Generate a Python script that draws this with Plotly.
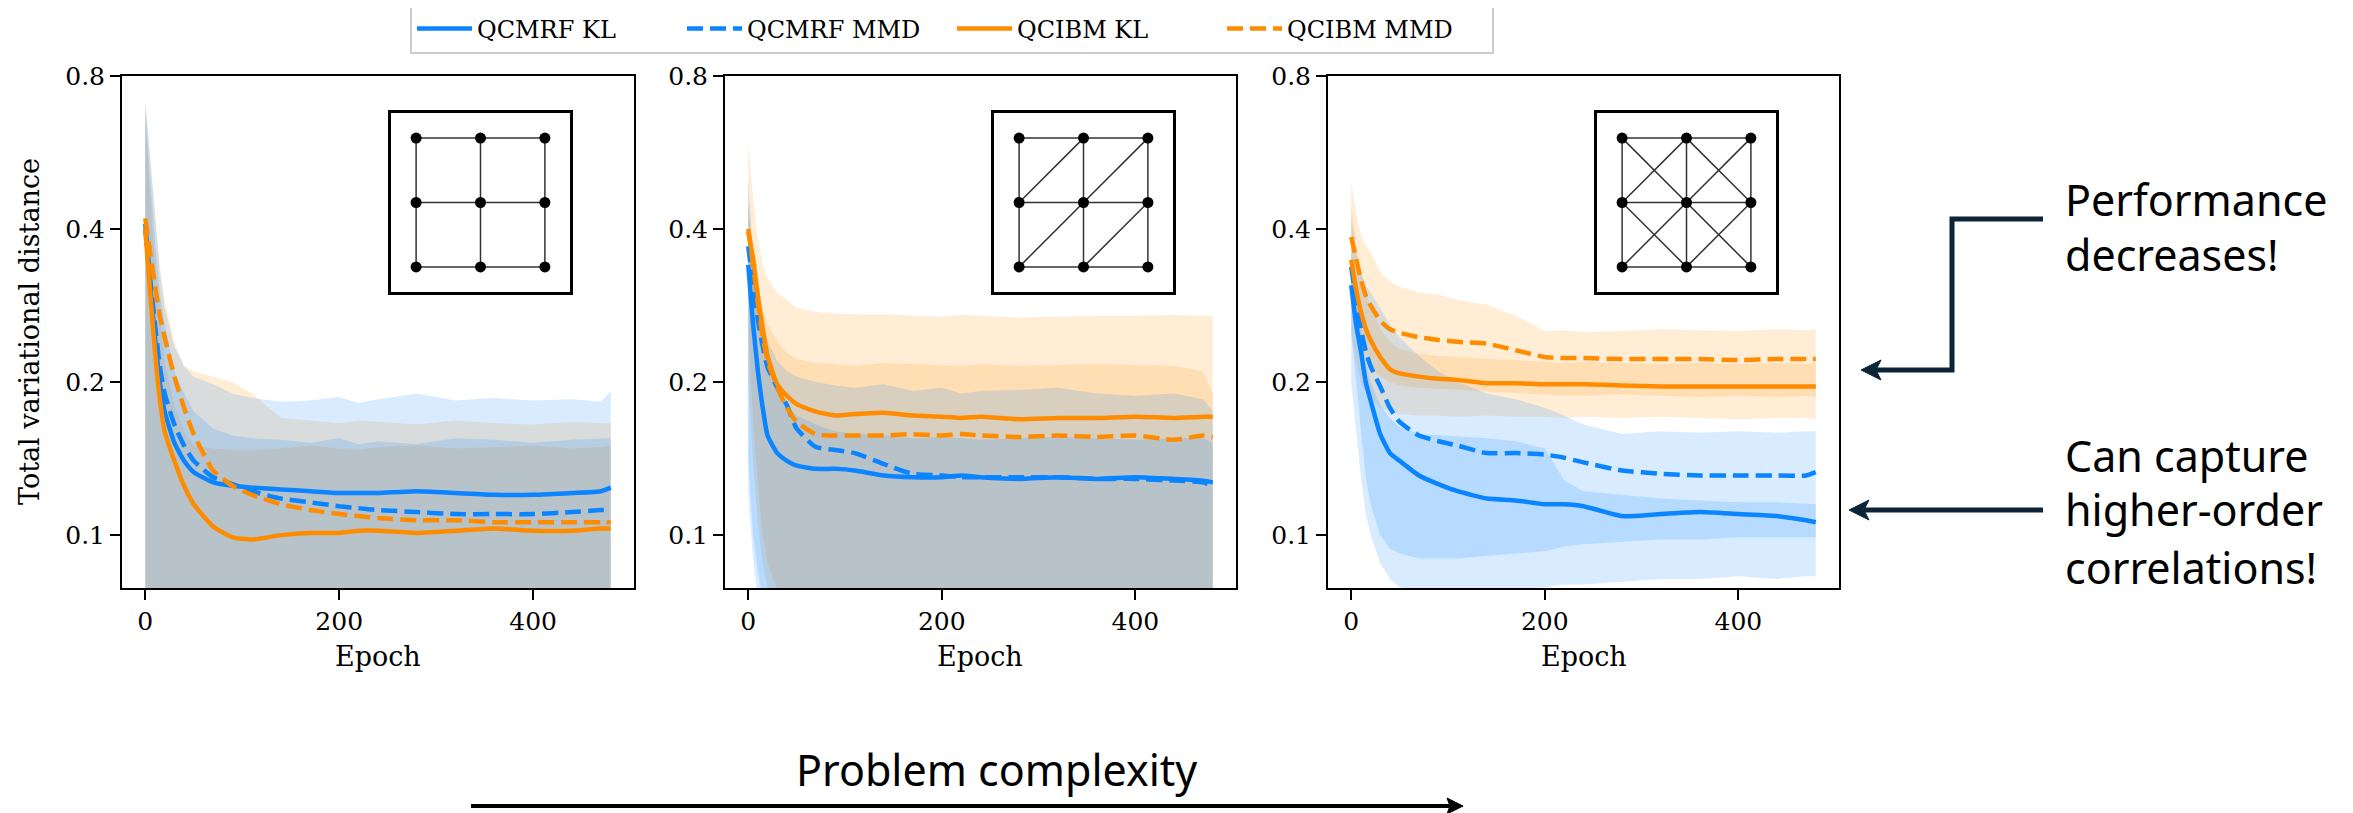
import math
import plotly.graph_objects as go

W, H = 2353, 813
PAGE_MARGIN = 8  # browser body margin around the figure div

# ---------------------------------------------------------------- data
EPOCHS = [0, 5, 10, 15, 20, 30, 40, 50, 70, 90, 110, 140, 170, 200, 220, 240, 280, 320, 360, 400, 440, 470, 480]
SERIES = ["QCMRF KL", "QCMRF MMD", "QCIBM KL", "QCIBM MMD"]

# panel 1: grid
P1_MRF_KL = [0.41, 0.31, 0.245, 0.2, 0.175, 0.152, 0.14, 0.133, 0.127, 0.125, 0.124, 0.123, 0.122, 0.121, 0.121, 0.121, 0.122, 0.121, 0.120, 0.120, 0.121, 0.122, 0.124]
P1_MRF_MMD = [0.40, 0.32, 0.26, 0.215, 0.19, 0.165, 0.15, 0.14, 0.13, 0.126, 0.122, 0.118, 0.116, 0.114, 0.113, 0.112, 0.111, 0.110, 0.110, 0.110, 0.111, 0.112, 0.112]
P1_IBM_KL = [0.40, 0.30, 0.23, 0.185, 0.16, 0.14, 0.125, 0.115, 0.104, 0.099, 0.098, 0.100, 0.101, 0.101, 0.102, 0.102, 0.101, 0.102, 0.103, 0.102, 0.102, 0.103, 0.103]
P1_IBM_MMD = [0.42, 0.36, 0.31, 0.27, 0.245, 0.205, 0.178, 0.158, 0.134, 0.125, 0.12, 0.115, 0.112, 0.110, 0.109, 0.108, 0.107, 0.107, 0.106, 0.106, 0.106, 0.106, 0.106]
P1_MRF_KL_HI = [0.72, 0.55, 0.42, 0.33, 0.28, 0.235, 0.215, 0.205, 0.198, 0.19, 0.186, 0.183, 0.184, 0.187, 0.182, 0.185, 0.19, 0.184, 0.186, 0.184, 0.185, 0.183, 0.192]
P1_MRF_MMD_HI = [0.7, 0.5, 0.38, 0.3, 0.26, 0.21, 0.19, 0.175, 0.162, 0.157, 0.155, 0.154, 0.152, 0.155, 0.151, 0.153, 0.151, 0.155, 0.154, 0.152, 0.154, 0.155, 0.155]
P1_IBM_KL_HI = [0.65, 0.45, 0.34, 0.27, 0.22, 0.18, 0.16, 0.15, 0.148, 0.147, 0.147, 0.148, 0.15, 0.148, 0.147, 0.149, 0.15, 0.148, 0.149, 0.15, 0.148, 0.149, 0.15]
P1_IBM_MMD_HI = [0.7, 0.55, 0.43, 0.34, 0.29, 0.24, 0.215, 0.21, 0.205, 0.2, 0.19, 0.17, 0.168, 0.166, 0.168, 0.167, 0.165, 0.168, 0.166, 0.165, 0.167, 0.166, 0.166]
P1_MRF_KL_LO = [0.07, 0.066, 0.064, 0.063, 0.063, 0.062, 0.062, 0.062, 0.062, 0.062, 0.062, 0.062, 0.062, 0.062, 0.062, 0.062, 0.062, 0.062, 0.062, 0.062, 0.062, 0.062, 0.062]
P1_MRF_MMD_LO = [0.07, 0.066, 0.065, 0.064, 0.064, 0.063, 0.063, 0.063, 0.063, 0.063, 0.063, 0.063, 0.063, 0.063, 0.063, 0.063, 0.063, 0.063, 0.063, 0.063, 0.063, 0.063, 0.063]
P1_IBM_KL_LO = [0.075, 0.068, 0.062, 0.06, 0.058, 0.057, 0.056, 0.056, 0.056, 0.056, 0.056, 0.056, 0.056, 0.056, 0.056, 0.056, 0.056, 0.056, 0.056, 0.056, 0.056, 0.056, 0.056]
P1_IBM_MMD_LO = [0.075, 0.07, 0.066, 0.062, 0.06, 0.058, 0.057, 0.056, 0.056, 0.056, 0.056, 0.056, 0.056, 0.056, 0.056, 0.056, 0.056, 0.056, 0.056, 0.056, 0.056, 0.056, 0.056]

# panel 2: grid + one diagonal
P2_MRF_KL = [0.34, 0.26, 0.21, 0.178, 0.157, 0.145, 0.14, 0.137, 0.135, 0.135, 0.134, 0.131, 0.130, 0.130, 0.131, 0.130, 0.129, 0.130, 0.129, 0.130, 0.129, 0.128, 0.127]
P2_MRF_MMD = [0.37, 0.31, 0.265, 0.235, 0.214, 0.195, 0.18, 0.162, 0.149, 0.147, 0.145, 0.138, 0.132, 0.131, 0.130, 0.130, 0.130, 0.130, 0.129, 0.129, 0.128, 0.127, 0.125]
P2_IBM_KL = [0.395, 0.35, 0.295, 0.255, 0.225, 0.198, 0.188, 0.181, 0.175, 0.172, 0.173, 0.174, 0.172, 0.171, 0.170, 0.171, 0.169, 0.170, 0.170, 0.171, 0.170, 0.171, 0.171]
P2_IBM_MMD = [0.40, 0.34, 0.285, 0.245, 0.22, 0.195, 0.178, 0.167, 0.158, 0.157, 0.157, 0.157, 0.158, 0.157, 0.158, 0.157, 0.156, 0.157, 0.156, 0.157, 0.154, 0.157, 0.156]
P2_MRF_KL_HI = [0.5, 0.36, 0.3, 0.26, 0.24, 0.22, 0.21, 0.205, 0.2, 0.197, 0.195, 0.198, 0.192, 0.195, 0.19, 0.192, 0.193, 0.195, 0.19, 0.188, 0.19, 0.185, 0.175]
P2_MRF_MMD_HI = [0.45, 0.33, 0.27, 0.23, 0.21, 0.19, 0.18, 0.172, 0.165, 0.16, 0.158, 0.157, 0.155, 0.156, 0.155, 0.154, 0.155, 0.156, 0.155, 0.154, 0.155, 0.155, 0.152]
P2_IBM_KL_HI = [0.59, 0.46, 0.38, 0.34, 0.32, 0.30, 0.29, 0.28, 0.275, 0.273, 0.272, 0.272, 0.27, 0.269, 0.271, 0.27, 0.268, 0.269, 0.27, 0.27, 0.271, 0.27, 0.27]
P2_IBM_MMD_HI = [0.45, 0.36, 0.31, 0.28, 0.26, 0.24, 0.228, 0.222, 0.218, 0.217, 0.215, 0.218, 0.217, 0.216, 0.215, 0.217, 0.215, 0.216, 0.217, 0.216, 0.215, 0.21, 0.19]
P2_MRF_KL_LO = [0.12, 0.09, 0.075, 0.068, 0.065, 0.063, 0.062, 0.062, 0.062, 0.062, 0.062, 0.062, 0.062, 0.062, 0.062, 0.062, 0.062, 0.062, 0.062, 0.062, 0.062, 0.062, 0.062]
P2_MRF_MMD_LO = [0.14, 0.1, 0.085, 0.075, 0.07, 0.066, 0.064, 0.064, 0.064, 0.064, 0.064, 0.064, 0.064, 0.064, 0.064, 0.064, 0.064, 0.064, 0.064, 0.064, 0.064, 0.064, 0.064]
P2_IBM_KL_LO = [0.2, 0.14, 0.105, 0.088, 0.078, 0.07, 0.067, 0.066, 0.065, 0.065, 0.065, 0.065, 0.065, 0.065, 0.065, 0.065, 0.065, 0.065, 0.065, 0.065, 0.065, 0.065, 0.065]
P2_IBM_MMD_LO = [0.25, 0.17, 0.125, 0.1, 0.088, 0.078, 0.072, 0.07, 0.069, 0.069, 0.069, 0.069, 0.069, 0.069, 0.069, 0.069, 0.069, 0.069, 0.069, 0.069, 0.069, 0.069, 0.069]

# panel 3: grid + both diagonals
P3_MRF_KL = [0.31, 0.26, 0.23, 0.2, 0.184, 0.158, 0.145, 0.14, 0.131, 0.126, 0.122, 0.118, 0.117, 0.115, 0.115, 0.114, 0.109, 0.110, 0.111, 0.110, 0.109, 0.107, 0.106]
P3_MRF_MMD = [0.337, 0.29, 0.255, 0.23, 0.215, 0.196, 0.178, 0.167, 0.157, 0.153, 0.15, 0.145, 0.145, 0.144, 0.142, 0.139, 0.134, 0.132, 0.131, 0.131, 0.131, 0.131, 0.133]
P3_IBM_KL = [0.348, 0.305, 0.275, 0.255, 0.242, 0.224, 0.212, 0.208, 0.205, 0.203, 0.202, 0.199, 0.199, 0.198, 0.198, 0.198, 0.197, 0.196, 0.196, 0.196, 0.196, 0.196, 0.196]
P3_IBM_MMD = [0.386, 0.35, 0.318, 0.296, 0.283, 0.264, 0.254, 0.25, 0.245, 0.242, 0.24, 0.238, 0.231, 0.224, 0.223, 0.223, 0.222, 0.222, 0.222, 0.221, 0.222, 0.222, 0.222]
P3_MRF_KL_HI = [0.36, 0.3, 0.26, 0.22, 0.2, 0.18, 0.17, 0.163, 0.158, 0.157, 0.156, 0.155, 0.153, 0.148, 0.128, 0.122, 0.12, 0.118, 0.117, 0.116, 0.116, 0.115, 0.115]
P3_MRF_MMD_HI = [0.42, 0.36, 0.33, 0.31, 0.3, 0.28, 0.26, 0.245, 0.225, 0.21, 0.2, 0.19, 0.185, 0.178, 0.172, 0.165, 0.158, 0.16, 0.159, 0.16, 0.159, 0.16, 0.16]
P3_IBM_KL_HI = [0.45, 0.38, 0.33, 0.30, 0.28, 0.255, 0.24, 0.232, 0.228, 0.225, 0.224, 0.222, 0.221, 0.219, 0.218, 0.219, 0.218, 0.217, 0.218, 0.217, 0.218, 0.217, 0.218]
P3_IBM_MMD_HI = [0.495, 0.43, 0.39, 0.37, 0.36, 0.33, 0.315, 0.308, 0.30, 0.297, 0.29, 0.284, 0.27, 0.252, 0.253, 0.251, 0.252, 0.254, 0.253, 0.252, 0.254, 0.253, 0.254]
P3_MRF_KL_LO = [0.25, 0.2, 0.16, 0.13, 0.115, 0.1, 0.094, 0.092, 0.09, 0.09, 0.09, 0.091, 0.092, 0.093, 0.095, 0.096, 0.097, 0.098, 0.098, 0.099, 0.099, 0.099, 0.099]
P3_MRF_MMD_LO = [0.2, 0.16, 0.13, 0.11, 0.1, 0.088, 0.082, 0.079, 0.078, 0.077, 0.077, 0.078, 0.078, 0.079, 0.08, 0.08, 0.081, 0.082, 0.082, 0.083, 0.082, 0.083, 0.083]
P3_IBM_KL_LO = [0.25, 0.22, 0.2, 0.19, 0.185, 0.178, 0.175, 0.173, 0.172, 0.172, 0.171, 0.172, 0.171, 0.171, 0.17, 0.171, 0.17, 0.171, 0.17, 0.169, 0.17, 0.17, 0.169]
P3_IBM_MMD_LO = [0.29, 0.26, 0.24, 0.225, 0.215, 0.205, 0.2, 0.197, 0.195, 0.194, 0.193, 0.192, 0.19, 0.189, 0.188, 0.188, 0.189, 0.188, 0.187, 0.188, 0.187, 0.188, 0.187]

Y_TICKS = [0.1, 0.2, 0.4, 0.8]
X_TICKS = [0, 200, 400]

# inset graphs: 3x3 lattice, node id = row * 3 + col
NODE_COL = [0, 1, 2, 0, 1, 2, 0, 1, 2]
NODE_ROW = [0, 0, 0, 1, 1, 1, 2, 2, 2]
GRID_EDGES = [(0, 1), (1, 2), (3, 4), (4, 5), (6, 7), (7, 8), (0, 3), (3, 6), (1, 4), (4, 7), (2, 5), (5, 8)]
DIAG_UP = [(0, 4), (1, 5), (3, 7), (4, 8)]
DIAG_DOWN = [(3, 1), (4, 2), (6, 4), (7, 5)]

PANELS = [
    dict(mean=[P1_MRF_KL, P1_MRF_MMD, P1_IBM_KL, P1_IBM_MMD],
         hi=[P1_MRF_KL_HI, P1_MRF_MMD_HI, P1_IBM_KL_HI, P1_IBM_MMD_HI],
         lo=[P1_MRF_KL_LO, P1_MRF_MMD_LO, P1_IBM_KL_LO, P1_IBM_MMD_LO],
         edges=GRID_EDGES),
    dict(mean=[P2_MRF_KL, P2_MRF_MMD, P2_IBM_KL, P2_IBM_MMD],
         hi=[P2_MRF_KL_HI, P2_MRF_MMD_HI, P2_IBM_KL_HI, P2_IBM_MMD_HI],
         lo=[P2_MRF_KL_LO, P2_MRF_MMD_LO, P2_IBM_KL_LO, P2_IBM_MMD_LO],
         edges=GRID_EDGES + DIAG_UP),
    dict(mean=[P3_MRF_KL, P3_MRF_MMD, P3_IBM_KL, P3_IBM_MMD],
         hi=[P3_MRF_KL_HI, P3_MRF_MMD_HI, P3_IBM_KL_HI, P3_IBM_MMD_HI],
         lo=[P3_MRF_KL_LO, P3_MRF_MMD_LO, P3_IBM_KL_LO, P3_IBM_MMD_LO],
         edges=GRID_EDGES + DIAG_UP + DIAG_DOWN),
]

# ---------------------------------------------------------------- style
BLUE, ORANGE = "#0a84ff", "#ff8c00"
BLUE_FILL, ORANGE_FILL = "rgba(10,132,255,0.16)", "rgba(255,140,0,0.16)"
COLORS = [BLUE, BLUE, ORANGE, ORANGE]
FILLS = [BLUE_FILL, BLUE_FILL, ORANGE_FILL, ORANGE_FILL]
DASHES = ["solid", "16px,7px", "solid", "16px,7px"]
FILL_ORDER = [2, 3, 0, 1]  # orange bands underneath, blue on top
SERIF = "DejaVu Serif"
SANS = "Noto Sans"
NAVY = "#0c2536"


def px(x):
    return (x - PAGE_MARGIN) / W


def py(y):
    return 1 - (y - PAGE_MARGIN) / H


# panel frames in page pixels (left, right); all share top / bottom
PANEL_X = [(122, 634), (725, 1236), (1328, 1839)]
TOP, BOTTOM = 76, 588
INSET = (269, 448, 113, 292)  # x offsets inside panel, y pixels

fig = go.Figure()
layout = {}

for i, panel in enumerate(PANELS):
    n = i + 1
    xa, ya = ("x" if n == 1 else f"x{n}"), ("y" if n == 1 else f"y{n}")
    for k in FILL_ORDER:
        fig.add_trace(go.Scatter(x=EPOCHS, y=panel["lo"][k], mode="lines", line=dict(width=0),
                                 showlegend=False, hoverinfo="skip", xaxis=xa, yaxis=ya))
        fig.add_trace(go.Scatter(x=EPOCHS, y=panel["hi"][k], mode="lines", line=dict(width=0),
                                 fill="tonexty", fillcolor=FILLS[k],
                                 showlegend=False, hoverinfo="skip", xaxis=xa, yaxis=ya))
    for k in range(4):
        fig.add_trace(go.Scatter(x=EPOCHS, y=panel["mean"][k], mode="lines", name=SERIES[k],
                                 line=dict(color=COLORS[k], width=4.5, dash=DASHES[k],
                                           shape="spline", smoothing=0.5),
                                 showlegend=(n == 1), xaxis=xa, yaxis=ya))

    l, r = PANEL_X[i]
    axis_common = dict(showline=True, mirror=True, linecolor="black", linewidth=2,
                       ticks="outside", ticklen=10, tickwidth=2, tickcolor="black",
                       showgrid=False, zeroline=False,
                       tickfont=dict(family=SERIF, size=25, color="black"))
    layout["xaxis" if n == 1 else f"xaxis{n}"] = dict(
        domain=[px(l), px(r)], range=[-24, 504], tickvals=X_TICKS, anchor=ya, **axis_common)
    layout["yaxis" if n == 1 else f"yaxis{n}"] = dict(
        domain=[py(BOTTOM), py(TOP)], type="log",
        range=[math.log10(0.0787), math.log10(0.8)],
        tickvals=Y_TICKS, ticktext=[str(v) for v in Y_TICKS], anchor=xa, **axis_common)

    # inset graph drawing
    m = n + 3
    ixa, iya = f"x{m}", f"y{m}"
    ex, ey = [], []
    for a, b in panel["edges"]:
        ex += [NODE_COL[a], NODE_COL[b], None]
        ey += [NODE_ROW[a], NODE_ROW[b], None]
    fig.add_trace(go.Scatter(x=ex, y=ey, mode="lines", line=dict(color="#333333", width=1.5),
                             showlegend=False, hoverinfo="skip", xaxis=ixa, yaxis=iya))
    fig.add_trace(go.Scatter(x=NODE_COL, y=NODE_ROW, mode="markers",
                             marker=dict(color="black", size=11),
                             showlegend=False, hoverinfo="skip", xaxis=ixa, yaxis=iya))
    inset_axis = dict(showline=True, mirror=True, linecolor="black", linewidth=3,
                      showticklabels=False, ticks="", showgrid=False, zeroline=False,
                      range=[-0.39, 2.39], fixedrange=True)
    layout[f"xaxis{m}"] = dict(domain=[px(l + INSET[0]), px(l + INSET[1])], anchor=iya, **inset_axis)
    layout[f"yaxis{m}"] = dict(domain=[py(INSET[3]), py(INSET[2])], anchor=ixa, **inset_axis)

SANS_FONT = dict(family=SANS, size=43, color="black")
annotations = [
    dict(text="Total variational distance", x=px(30), y=py((TOP + BOTTOM) / 2), textangle=-90,
         font=dict(family=SERIF, size=27, color="black")),
    dict(text="Problem complexity", x=px(996), y=py(769), font=SANS_FONT),
]
for line, yy in [("Performance", 199), ("decreases!", 254),
                 ("Can capture", 455), ("higher-order", 510), ("correlations!", 567)]:
    annotations.append(dict(text=line, x=px(2063), y=py(yy), xanchor="left", font=SANS_FONT))
for l, r in PANEL_X:
    annotations.append(dict(text="Epoch", x=px((l + r) / 2), y=py(656),
                            font=dict(family=SERIF, size=27, color="black")))
for a in annotations:
    a.update(xref="paper", yref="paper", showarrow=False)
    a.setdefault("xanchor", "center")
    a.setdefault("yanchor", "middle")


def path(points, close=False):
    s = "M " + " L ".join(f"{px(x):.5f},{py(y):.5f}" for x, y in points)
    return s + (" Z" if close else "")


shapes = [
    # elbow arrow to "Performance decreases!"
    dict(type="path", path=path([(2043, 219), (1952, 219), (1952, 370), (1876, 370)]),
         line=dict(color=NAVY, width=5)),
    dict(type="path", path=path([(1861, 370), (1881, 360), (1876, 370), (1881, 380)], close=True),
         line=dict(color=NAVY, width=1), fillcolor=NAVY),
    # straight arrow to "Can capture ..."
    dict(type="path", path=path([(2043, 510), (1864, 510)]), line=dict(color=NAVY, width=5)),
    dict(type="path", path=path([(1849, 510), (1869, 500), (1864, 510), (1869, 520)], close=True),
         line=dict(color=NAVY, width=1), fillcolor=NAVY),
    # problem complexity arrow
    dict(type="path", path=path([(471, 806), (1452, 806)]), line=dict(color="black", width=4)),
    dict(type="path", path=path([(1463, 806), (1447, 798), (1450, 806), (1447, 814)], close=True),
         line=dict(color="black", width=1), fillcolor="black"),
]
for s in shapes:
    s.update(xref="paper", yref="paper", layer="above")

fig.update_layout(
    width=W, height=H, margin=dict(l=0, r=0, t=0, b=0, autoexpand=False),
    paper_bgcolor="white", plot_bgcolor="white",
    font=dict(family=SERIF, color="black"),
    legend=dict(orientation="h", x=px(952), y=py(29), xanchor="center", yanchor="middle",
                font=dict(family=SERIF, size=24, color="black"),
                bgcolor="white", bordercolor="#cccccc", borderwidth=2,
                itemwidth=55, entrywidth=200, traceorder="normal"),
    annotations=annotations, shapes=shapes, showlegend=True,
    **layout,
)

fig.write_html("out.html")
